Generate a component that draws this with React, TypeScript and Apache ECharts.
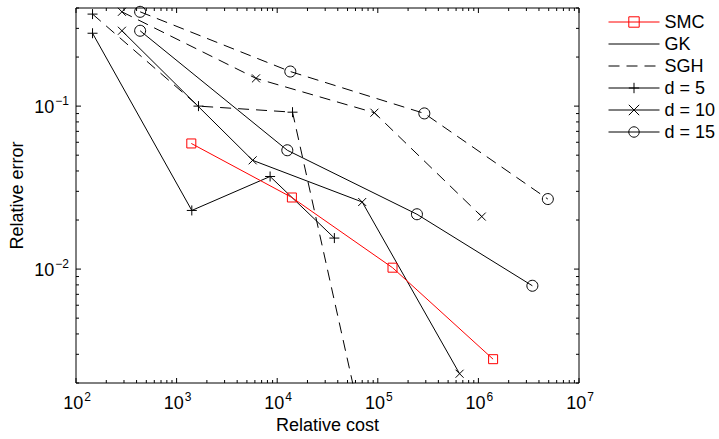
import React, { useEffect, useRef } from 'react';
import * as echarts from 'echarts';

// Axis ranges (log10 scales on both axes)
const X_MIN = 1e2;
const X_MAX = 1e7;
const Y_MIN = 0.002;
const Y_MAX = 0.4;

// Sparse-grid Monte Carlo
const smcCost = [1.4e3, 1.4e4, 1.4e5, 1.4e6];
const smcError = [0.059, 0.0275, 0.0102, 0.0028];

// Genz-Keister rules
const gkD5Cost = [146, 1416, 8500, 37000];
const gkD5Error = [0.28, 0.0229, 0.037, 0.0155];
const gkD10Cost = [286, 5700, 70000, 650000];
const gkD10Error = [0.29, 0.0465, 0.0258, 0.00228];
const gkD15Cost = [434, 12600, 245000, 3.44e6];
const gkD15Error = [0.29, 0.0536, 0.0217, 0.0079];

// Sparse-grid Gauss-Hermite
const sghD5Cost = [146, 1650, 14200, 67600];
const sghD5Error = [0.367, 0.1, 0.0918, 0.0012];
const sghD10Cost = [286, 6150, 92500, 1.08e6];
const sghD10Error = [0.379, 0.148, 0.0911, 0.021];
const sghD15Cost = [434, 13500, 290000, 4.9e6];
const sghD15Error = [0.379, 0.163, 0.0902, 0.0269];

// Ticks and their labels
const xMajorTicks = [1e2, 1e3, 1e4, 1e5, 1e6, 1e7];
const xTickExponents = ['2', '3', '4', '5', '6', '7'];
const yMajorTicks = [1e-2, 1e-1];
const yTickExponents = ['\u22122', '\u22121'];
const minorMantissas = [2, 3, 4, 5, 6, 7, 8, 9];
const xMinorDecades = [1e2, 1e3, 1e4, 1e5, 1e6];
const yMinorDecades = [1e-3, 1e-2, 1e-1];

const legendNames = ['SMC', 'GK', 'SGH', 'd = 5', 'd = 10', 'd = 15'];

const FONT = '"Liberation Sans", Arial, Helvetica, sans-serif';
const PLUS = 'path://M5,0L5,10M0,5L10,5';
const CROSS = 'path://M0,0L10,10M10,0L0,10';
const DASH = [11, 7];

const xMinorTicks = xMinorDecades.flatMap((d) => minorMantissas.map((m) => m * d));
const yMinorTicks = yMinorDecades
  .flatMap((d) => minorMantissas.map((m) => m * d))
  .filter((v) => v > Y_MIN * 0.999 && v < Y_MAX * 1.001);

const richLabel = {
  b: { fontSize: 18, fontFamily: FONT, color: '#000', lineHeight: 18, verticalAlign: 'bottom' },
  s: { fontSize: 12, fontFamily: FONT, color: '#000', lineHeight: 12, padding: [0, 0, 9, 1], verticalAlign: 'bottom' },
};

function markerSeries(
  name: string,
  xs: number[],
  ys: number[],
  color: string,
  symbol: string,
  symbolSize: number,
  dashed: boolean,
) {
  return {
    type: 'line',
    name,
    data: xs.map((x, i) => [x, ys[i]]),
    symbol,
    symbolSize,
    symbolKeepAspect: true,
    showSymbol: symbol !== 'none',
    clip: true,
    lineStyle: { color, width: 1, type: dashed ? DASH : 'solid' },
    itemStyle: {
      color: 'rgba(0,0,0,0)',
      borderColor: symbol === 'none' ? 'rgba(0,0,0,0)' : color,
      borderWidth: symbol === 'none' ? 0 : 1,
    },
    emphasis: { disabled: true },
    silent: true,
    z: color === '#000' ? 3 : 4,
  };
}

function tickSeries(axis: 'x' | 'y', values: number[], major: boolean) {
  const len = major ? 5 : 3;
  return {
    type: 'custom',
    silent: true,
    clip: false,
    z: 5,
    data: values.map((v) => (axis === 'x' ? [v, Y_MIN] : [X_MIN, v])),
    renderItem: (params: any, api: any) => {
      const cs = params.coordSys;
      const p = api.coord([api.value(0), api.value(1)]);
      const style = { stroke: '#000', lineWidth: 1 };
      if (axis === 'x') {
        const x = p[0];
        return {
          type: 'group',
          children: [
            { type: 'line', shape: { x1: x, y1: cs.y + cs.height, x2: x, y2: cs.y + cs.height - len }, style },
            { type: 'line', shape: { x1: x, y1: cs.y, x2: x, y2: cs.y + len }, style },
          ],
        };
      }
      const y = p[1];
      return {
        type: 'group',
        children: [
          { type: 'line', shape: { x1: cs.x, y1: y, x2: cs.x + len, y2: y }, style },
          { type: 'line', shape: { x1: cs.x + cs.width, y1: y, x2: cs.x + cs.width - len, y2: y }, style },
        ],
      };
    },
  };
}

function labelSeries(axis: 'x' | 'y', values: number[], exponents: string[]) {
  return {
    type: 'custom',
    silent: true,
    clip: false,
    z: 5,
    data: values.map((v) => (axis === 'x' ? [v, Y_MIN] : [X_MIN, v])),
    renderItem: (params: any, api: any) => {
      const p = api.coord([api.value(0), api.value(1)]);
      const text = `{b|10}{s|${exponents[params.dataIndex]}}`;
      if (axis === 'x') {
        return {
          type: 'text',
          x: p[0] + 1,
          y: p[1] + 20,
          style: { text, rich: richLabel, align: 'center', verticalAlign: 'middle', fill: '#000' },
        };
      }
      return {
        type: 'text',
        x: p[0] - 7,
        y: p[1] + 1,
        style: { text, rich: richLabel, align: 'right', verticalAlign: 'middle', fill: '#000' },
      };
    },
  };
}

export default function App() {
  const ref = useRef<HTMLDivElement>(null);

  useEffect(() => {
    if (!ref.current) return;
    const chart = echarts.init(ref.current, null, { renderer: 'svg' });

    const option = {
      animation: false,
      backgroundColor: '#fff',
      textStyle: { fontFamily: FONT },
      grid: {
        left: 75,
        right: 140,
        top: 8,
        bottom: 56,
        show: true,
        borderColor: '#000',
        borderWidth: 1,
        backgroundColor: 'transparent',
      },
      legend: {
        data: legendNames,
        orient: 'vertical',
        left: 608,
        top: 13,
        padding: 0,
        itemWidth: 51,
        itemHeight: 13,
        itemGap: 4,
        selectedMode: false,
        textStyle: { fontSize: 18, color: '#000', fontFamily: FONT, lineHeight: 18 },
        lineStyle: { width: 1 },
        itemStyle: { borderWidth: 1 },
      },
      xAxis: {
        type: 'log',
        logBase: 10,
        min: X_MIN,
        max: X_MAX,
        name: 'Relative cost',
        nameLocation: 'middle',
        nameGap: 33,
        nameTextStyle: { fontSize: 18, color: '#000', fontFamily: FONT },
        axisLine: { show: false },
        axisTick: { show: false },
        axisLabel: { show: false },
        splitLine: { show: false },
      },
      yAxis: {
        type: 'log',
        logBase: 10,
        min: Y_MIN,
        max: Y_MAX,
        name: 'Relative error',
        nameLocation: 'middle',
        nameGap: 50,
        nameTextStyle: { fontSize: 18, color: '#000', fontFamily: FONT },
        axisLine: { show: false },
        axisTick: { show: false },
        axisLabel: { show: false },
        splitLine: { show: false },
      },
      series: [
        markerSeries('SMC', smcCost, smcError, '#ff0000', 'rect', 9, false),
        markerSeries('GK, d = 5', gkD5Cost, gkD5Error, '#000', PLUS, 10, false),
        markerSeries('GK, d = 10', gkD10Cost, gkD10Error, '#000', CROSS, 8, false),
        markerSeries('GK, d = 15', gkD15Cost, gkD15Error, '#000', 'circle', 11, false),
        markerSeries('SGH, d = 5', sghD5Cost, sghD5Error, '#000', PLUS, 10, true),
        markerSeries('SGH, d = 10', sghD10Cost, sghD10Error, '#000', CROSS, 8, true),
        markerSeries('SGH, d = 15', sghD15Cost, sghD15Error, '#000', 'circle', 11, true),
        // legend-only entries
        markerSeries('GK', [], [], '#000', 'none', 0, false),
        markerSeries('SGH', [], [], '#000', 'none', 0, true),
        markerSeries('d = 5', [], [], '#000', PLUS, 10, false),
        markerSeries('d = 10', [], [], '#000', CROSS, 8, false),
        markerSeries('d = 15', [], [], '#000', 'circle', 11, false),
        tickSeries('x', xMajorTicks, true),
        tickSeries('x', xMinorTicks, false),
        tickSeries('y', yMajorTicks, true),
        tickSeries('y', yMinorTicks, false),
        labelSeries('x', xMajorTicks, xTickExponents),
        labelSeries('y', yMajorTicks, yTickExponents),
      ],
    };

    chart.setOption(option as any);
    return () => chart.dispose();
  }, []);

  return (
    <div
      ref={ref}
      style={{ position: 'fixed', left: 0, top: 0, width: 719, height: 439, background: '#fff' }}
    />
  );
}
